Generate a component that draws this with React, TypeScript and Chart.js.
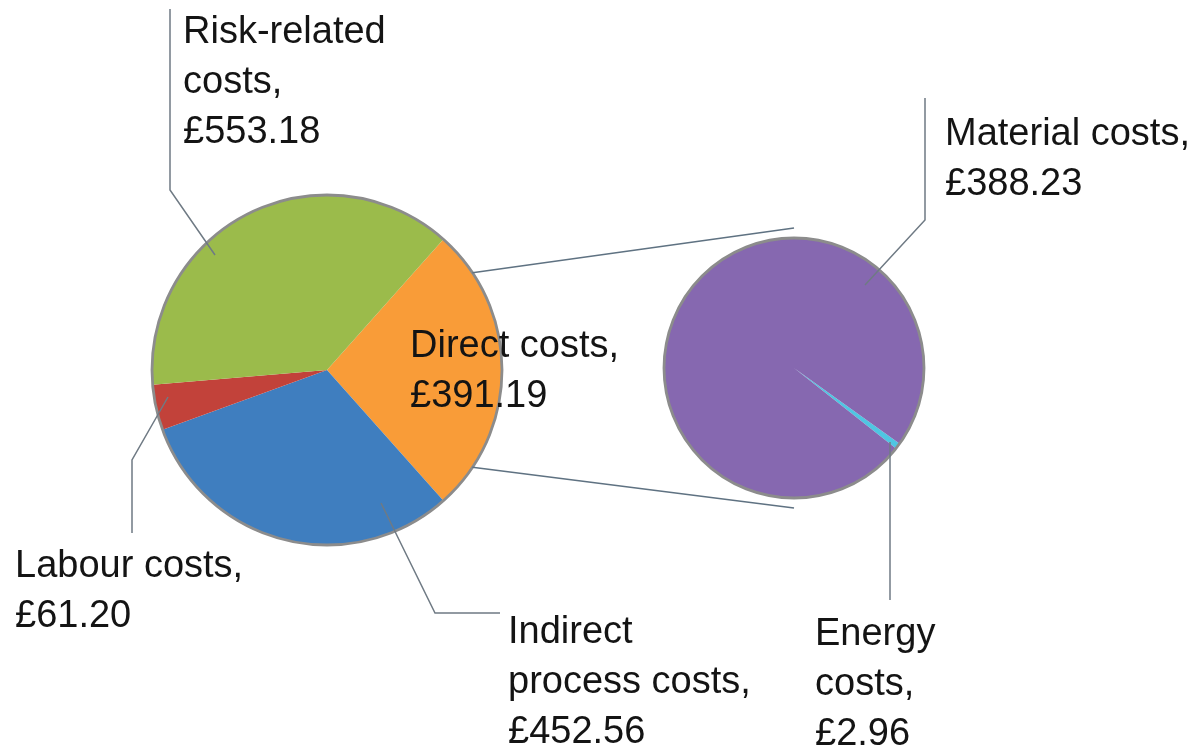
import React, { useEffect, useRef } from "react";
import { Chart, registerables } from "chart.js";

Chart.register(...registerables);

// ---- Data ----
const mainLabels = ["Direct costs", "Indirect process costs", "Labour costs", "Risk-related costs"];
const mainValues = [391.19, 452.56, 61.2, 553.18];
const mainColors = ["#f99c38", "#3f7ebf", "#c2423a", "#9bbb4b"];

const subLabels = ["Energy costs", "Material costs"];
const subValues = [2.96, 388.23];
const subColors = ["#4fc6e2", "#8668b0"];

const W = 1196;
const H = 750;
const FONT = "38px 'Liberation Sans', Arial, sans-serif";
const TEXT_COLOR = "#141414";
const LEADER = "#6f7a84";
const OUTLINE = "#8c8c8c";

const fmt = (v: number) => "£" + v.toFixed(2);

type LabelSpec = { lines: string[]; x: number; y: number; leader: [number, number][] };

function outlinePlugin(id: string) {
  return {
    id,
    afterDatasetsDraw(chart: any) {
      const arc = chart.getDatasetMeta(0).data[0];
      if (!arc) return;
      const { x, y, outerRadius } = arc.getProps(["x", "y", "outerRadius"], true);
      const ctx = chart.ctx;
      ctx.save();
      ctx.beginPath();
      ctx.arc(x, y, outerRadius, 0, Math.PI * 2);
      ctx.lineWidth = 2.8;
      ctx.strokeStyle = OUTLINE;
      ctx.stroke();
      ctx.restore();
    },
  };
}

export default function App() {
  const leftRef = useRef<HTMLCanvasElement>(null);
  const rightRef = useRef<HTMLCanvasElement>(null);

  useEffect(() => {
    document.body.style.margin = "0";
    const mainTotal = mainValues.reduce((a, b) => a + b, 0);
    const directAngle = (mainValues[0] / mainTotal) * 360;
    const mainRotation = 90 - directAngle / 2;
    // energy slice starts ~35.6° below the horizontal on the right
    const subRotation = 90 + 35.6;

    const left = new Chart(leftRef.current!, {
      type: "pie",
      data: {
        labels: mainLabels,
        datasets: [{ data: mainValues, backgroundColor: mainColors, borderWidth: 0 }],
      },
      options: {
        responsive: false,
        animation: false,
        rotation: mainRotation,
        layout: { padding: { left: 152, right: 694, top: 195, bottom: 205 } },
        plugins: { legend: { display: false }, tooltip: { enabled: false } },
      },
      plugins: [outlinePlugin("outlineL")],
    });

    const labels: LabelSpec[] = [
      {
        lines: ["Risk-related", "costs,", fmt(mainValues[3])],
        x: 183, y: 43,
        leader: [[170, 9], [170, 190], [215, 255]],
      },
      {
        lines: ["Direct costs,", fmt(mainValues[0])],
        x: 410, y: 357,
        leader: [],
      },
      {
        lines: ["Labour costs,", fmt(mainValues[2])],
        x: 15, y: 577,
        leader: [[132, 533], [132, 460], [168, 397]],
      },
      {
        lines: ["Indirect", "process costs,", fmt(mainValues[1])],
        x: 508, y: 643,
        leader: [[500, 613], [435, 613], [381, 503]],
      },
      {
        lines: ["Material costs,", fmt(subValues[1])],
        x: 945, y: 145,
        leader: [[925, 98], [925, 220], [865, 285]],
      },
      {
        lines: ["Energy", "costs,", fmt(subValues[0])],
        x: 815, y: 645,
        leader: [[890, 442], [890, 600]],
      },
    ];

    const overlay = {
      id: "overlay",
      afterDraw(chart: any) {
        const ctx = chart.ctx;
        const lArc = left.getDatasetMeta(0).data[0] as any;
        const rArc = chart.getDatasetMeta(0).data[0] as any;
        const lp = lArc.getProps(["x", "y", "outerRadius", "startAngle", "endAngle"], true);
        const rp = rArc.getProps(["x", "y", "outerRadius"], true);
        const mid = (lp.startAngle + lp.endAngle) / 2;
        const half = (lp.endAngle - lp.startAngle) / 2;
        ctx.save();
        ctx.strokeStyle = "#5f7282";
        ctx.lineWidth = 1.5;
        const pts = [
          [mid - half * 0.7, rp.y - rp.outerRadius - 10],
          [mid + half * 0.7, rp.y + rp.outerRadius + 10],
        ];
        for (const [ang, ty] of pts) {
          ctx.beginPath();
          ctx.moveTo(lp.x + lp.outerRadius * Math.cos(ang), lp.y + lp.outerRadius * Math.sin(ang));
          ctx.lineTo(rp.x, ty);
          ctx.stroke();
        }
        ctx.strokeStyle = LEADER;
        ctx.lineWidth = 1.5;
        for (const l of labels) {
          if (!l.leader.length) continue;
          ctx.beginPath();
          l.leader.forEach(([px, py], i) => (i ? ctx.lineTo(px, py) : ctx.moveTo(px, py)));
          ctx.stroke();
        }
        ctx.fillStyle = TEXT_COLOR;
        ctx.font = FONT;
        ctx.textBaseline = "alphabetic";
        ctx.textAlign = "left";
        for (const l of labels) {
          l.lines.forEach((t, i) => ctx.fillText(t, l.x, l.y + i * 50));
        }
        ctx.restore();
      },
    };

    const right = new Chart(rightRef.current!, {
      type: "pie",
      data: {
        labels: subLabels,
        datasets: [{ data: subValues, backgroundColor: subColors, borderWidth: 0 }],
      },
      options: {
        responsive: false,
        animation: false,
        rotation: subRotation,
        layout: { padding: { left: 664, right: 272, top: 238, bottom: 252 } },
        plugins: { legend: { display: false }, tooltip: { enabled: false } },
      },
      plugins: [outlinePlugin("outlineR"), overlay],
    });

    return () => {
      right.destroy();
      left.destroy();
    };
  }, []);

  const style: React.CSSProperties = { position: "absolute", left: 0, top: 0, width: W, height: H };
  return (
    <div style={{ position: "fixed", left: 0, top: 0, width: W, height: H, background: "#ffffff" }}>
      <canvas ref={leftRef} width={W} height={H} style={style} />
      <canvas ref={rightRef} width={W} height={H} style={style} />
    </div>
  );
}
